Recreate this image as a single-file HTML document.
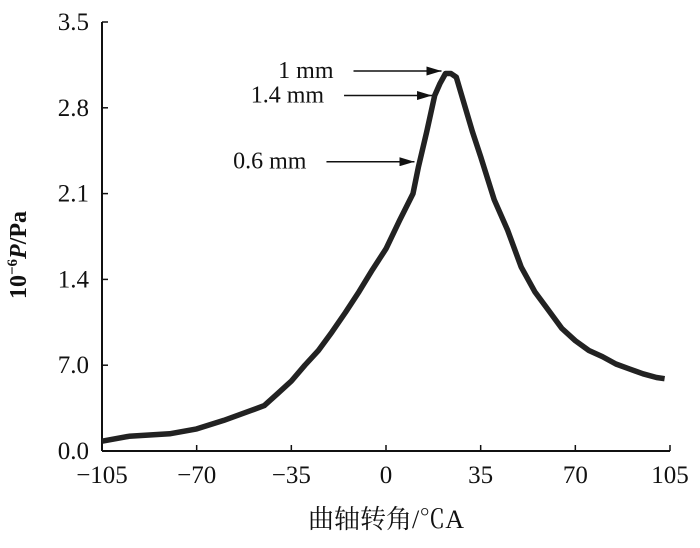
<!DOCTYPE html>
<html><head><meta charset="utf-8"><style>
body{margin:0;background:#fff}
svg text{font-family:"Liberation Serif","Noto Serif CJK SC",serif;fill:#111}
</style></head><body>
<svg width="700" height="543" viewBox="0 0 700 543">
<g id="axes"></g><g id="series"></g><g id="annot"></g>
</svg>
<script>
const xTicks=[-105,-70,-35,0,35,70,105];
const yTicks=[0,0.7,1.4,2.1,2.8,3.5];
const yTickLabels=["0.0","7.0","1.4","2.1","2.8","3.5"];
const angles=[-105,-95,-80,-70,-60,-50,-45,-40,-35,-30,-25,-20,-15,-10,-5,0,5,10,12,15,18,20,22,24,26,28,32,35,40,45,50,55,60,65,70,75,80,85,90,95,100,103];
const pressure=[0.08,0.12,0.14,0.18,0.25,0.33,0.37,0.47,0.57,0.7,0.82,0.97,1.13,1.3,1.48,1.65,1.88,2.1,2.32,2.6,2.9,3.0,3.08,3.08,3.05,2.9,2.6,2.4,2.05,1.8,1.5,1.3,1.15,1.0,0.9,0.82,0.77,0.71,0.67,0.63,0.6,0.59];
const annLabels=["1 mm","1.4 mm","0.6 mm"];
const annAngles=[22,18.5,12];
const annValues=[3.1,2.9,2.36];
const X=v=>386+v*(568/210), Y=v=>451-v*(429/3.5);
const NS="http://www.w3.org/2000/svg";
function mk(t,a,p){const e=document.createElementNS(NS,t);for(const k in a)e.setAttribute(k,a[k]);p.appendChild(e);return e;}
const ax=document.getElementById('axes');
let l=mk('line',{x1:102,y1:451,x2:670,y2:451,stroke:'#111','stroke-width':2},ax);


l=mk('line',{x1:102,y1:22,x2:102,y2:451,stroke:'#111','stroke-width':2},ax);


xTicks.forEach(v=>{mk('line',{x1:X(v),y1:451,x2:X(v),y2:445,stroke:'#111','stroke-width':1.5},ax);
 const t=mk('text',{x:X(v),y:483,'font-size':25,'text-anchor':'middle'},ax);t.textContent=(v<0?'\u2212'+(-v):v);
 
 });
yTicks.forEach((v,i)=>{mk('line',{x1:102,y1:Y(v),x2:108,y2:Y(v),stroke:'#111','stroke-width':1.5},ax);
 const t=mk('text',{x:89,y:Y(v)+8,'font-size':25,'text-anchor':'end'},ax);t.textContent=yTickLabels[i];
 
 });
let t=mk('text',{x:386,y:528,'font-size':26,'text-anchor':'middle'},ax);t.textContent='曲轴转角/℃A';


t=mk('text',{x:0,y:0,'font-size':24,'font-weight':'bold','text-anchor':'middle',transform:'translate(26,255) rotate(-90)'},ax);
t.innerHTML='10<tspan dy="-9" font-size="15">\u22126</tspan><tspan dy="9" font-style="italic">P</tspan>/Pa';


const s=document.getElementById('series');
const p=mk('path',{d:angles.map((a,i)=>(i?'L':'M')+X(a).toFixed(1)+','+Y(pressure[i]).toFixed(1)).join(''),fill:'none',stroke:'#222','stroke-width':5.5,'stroke-linejoin':'round'},s);


const an=document.getElementById('annot');
mk('defs',{},an).innerHTML='<marker id="ah" markerWidth="10" markerHeight="6" refX="10" refY="3" orient="auto"><path d="M0,0L10,3L0,6z" fill="#111"/></marker>';
annLabels.forEach((lab,i)=>{const x2=X(annAngles[i])-4,y=Y(annValues[i]);
 const ln=mk('line',{x1:x2-88,y1:y,x2:x2,y2:y,stroke:'#111','stroke-width':1.5,'marker-end':'url(#ah)'},an);
 
 
 const tx=mk('text',{x:x2-108,y:y+7,'font-size':24,'text-anchor':'end'},an);tx.textContent=lab;
 
 });
</script>
</body></html>
